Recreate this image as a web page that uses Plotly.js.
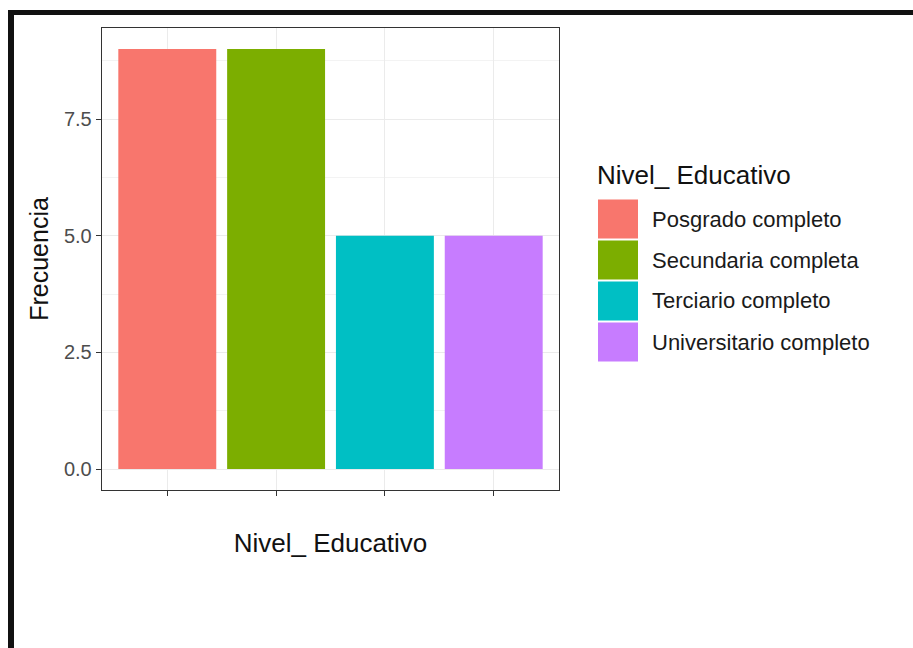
<!DOCTYPE html>
<html>
<head>
<meta charset="utf-8">
<script src="https://cdn.plot.ly/plotly-3.0.1.min.js"></script>
<style>
  html, body { margin: 0; padding: 0; background: #fff; }
  #wrap { position: relative; width: 913px; height: 648px; overflow: hidden; }
  #chart { position: absolute; left: 0; top: 0; width: 913px; height: 648px; }
  .bline { position: absolute; background: #111; }
</style>
</head>
<body>
<div id="wrap">
  <div id="chart"></div>
  <div class="bline" style="left:8px; top:10px; width:905px; height:5px;"></div>
  <div class="bline" style="left:8px; top:10px; width:6px; height:638px;"></div>
</div>
<script>
// ---- data ----
const categories = ["Posgrado completo", "Secundaria completa", "Terciario completo", "Universitario completo"];
const frecuencia = [9, 9, 5, 5];
const colors = ["#F8766D", "#7CAE00", "#00BFC4", "#C77CFF"];
const yTickVals = [0, 2.5, 5, 7.5];
const yTickText = ["0.0", "2.5", "5.0", "7.5"];
const xTitle = "Nivel_ Educativo";
const yTitle = "Frecuencia";
const legendTitle = "Nivel_ Educativo";

// ---- geometry helpers (pixel -> paper) ----
const W = 913, H = 648;
const M = { l: 102, r: 354, t: 28, b: 158 };
const PW = W - M.l - M.r, PH = H - M.t - M.b;
const px = x => (x - M.l) / PW;
const py = y => (H - M.b - y) / PH;

const FONT = "Liberation Sans, Arial, sans-serif";

const trace = {
  type: "bar",
  x: categories,
  y: frecuencia,
  marker: { color: colors, line: { width: 0 } },
  showlegend: false,
  hoverinfo: "x+y"
};

// manual ggplot-style legend
const shapes = [];
const annotations = [];
annotations.push({
  xref: "paper", yref: "paper", x: px(595), y: py(175),
  xanchor: "left", yanchor: "middle", showarrow: false,
  text: legendTitle, font: { family: FONT, size: 26, color: "#111" }
});
categories.forEach((c, i) => {
  const cy = 219 + i * 41;
  shapes.push({
    type: "rect", xref: "paper", yref: "paper",
    x0: px(598), x1: px(638), y0: py(cy - 19.5), y1: py(cy + 19.5),
    fillcolor: colors[i], line: { width: 0 }, layer: "above"
  });
  annotations.push({
    xref: "paper", yref: "paper", x: px(650), y: py(cy),
    xanchor: "left", yanchor: "middle", showarrow: false,
    text: c, font: { family: FONT, size: 22, color: "#1a1a1a" }
  });
});

const layout = {
  width: W, height: H,
  margin: M,
  paper_bgcolor: "#fff",
  plot_bgcolor: "#fff",
  showlegend: false,
  bargap: 0.1,
  font: { family: FONT, color: "#000" },
  xaxis: {
    type: "category",
    range: [-0.6, 3.6],
    showticklabels: false,
    ticks: "outside", ticklen: 5, tickwidth: 1, tickcolor: "#333",
    showgrid: true, gridcolor: "#ebebeb", gridwidth: 1,
    showline: true, mirror: true, linecolor: "#333", linewidth: 1.3,
    zeroline: false,
    title: { text: xTitle, font: { family: FONT, size: 26, color: "#111" }, standoff: 38 }
  },
  yaxis: {
    range: [-0.45, 9.45],
    tickvals: yTickVals, ticktext: yTickText,
    ticks: "outside", ticklen: 5, tickwidth: 1, tickcolor: "#333",
    tickfont: { family: FONT, size: 20, color: "#4d4d4d" },
    showgrid: true, gridcolor: "#ebebeb", gridwidth: 1,
    minor: { tickvals: [1.25, 3.75, 6.25, 8.75], showgrid: true, gridcolor: "#f3f3f3", gridwidth: 1, ticks: "" },
    showline: true, mirror: true, linecolor: "#333", linewidth: 1.3,
    zeroline: false,
    title: { text: yTitle, font: { family: FONT, size: 25, color: "#111" }, standoff: 8 }
  },
  shapes: shapes,
  annotations: annotations
};

Plotly.newPlot("chart", [trace], layout, { displayModeBar: false, staticPlot: true });
</script>
</body>
</html>
